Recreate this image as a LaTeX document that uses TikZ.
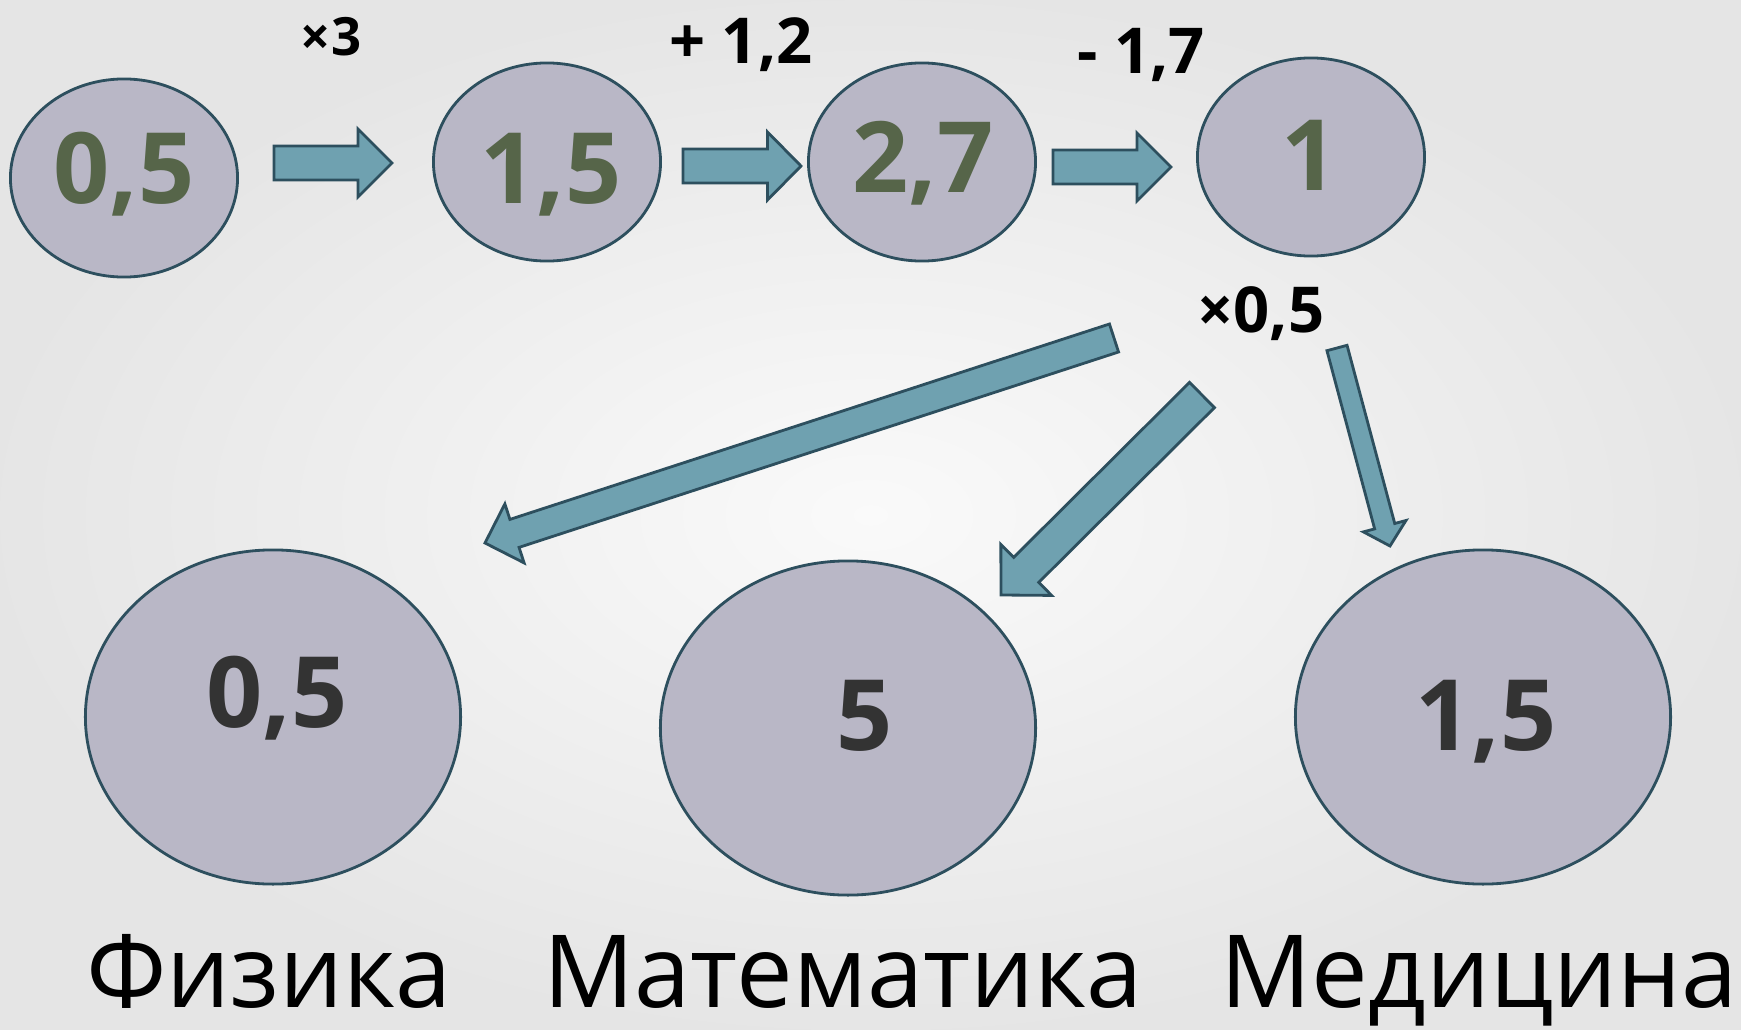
\documentclass[tikz,border=0pt]{standalone}
\usepackage{fontspec}
\setmainfont{Open Sans}
\usetikzlibrary{calc,shapes.geometric}

\definecolor{bubblefill}{HTML}{B9B7C6}
\definecolor{rim}{HTML}{2D4F5E}
\definecolor{arrowfill}{HTML}{6FA1B0}
\definecolor{olive}{HTML}{566549}
\definecolor{darknum}{HTML}{333333}

% tail, tip, half shaft width, half head width, head length
\newcommand\fatarrow[5]{%
  \coordinate (fa-base) at ($(#2)!#5!(#1)$);
  \draw[blockarrow] ($(#1)!#3!90:(#2)$) -- ($(fa-base)!#3!90:(#2)$)
    -- ($(fa-base)!#4!90:(#2)$) -- (#2) -- ($(fa-base)!#4!-90:(#2)$)
    -- ($(fa-base)!#3!-90:(#2)$) -- ($(#1)!#3!-90:(#2)$) -- cycle;}

\begin{document}
\begin{tikzpicture}[x=0.01cm,y=-0.01cm,
  bubble/.style={ellipse,draw=rim,fill=bubblefill,line width=0.8pt,inner sep=0pt},
  smallbubble/.style={bubble,minimum width=2.27cm,minimum height=1.98cm},
  bigbubble/.style={bubble,minimum width=3.75cm,minimum height=3.34cm},
  blockarrow/.style={draw=rim,fill=arrowfill,line width=0.8pt,line join=miter},
  topnum/.style={anchor=base,text=olive,font=\bfseries\fontsize{28}{30}\selectfont},
  botnum/.style={anchor=base,text=darknum,font=\bfseries\fontsize{28}{30}\selectfont},
  oplabel/.style={anchor=base,font=\bfseries\fontsize{18}{20}\selectfont},
  subject/.style={anchor=base,font=\fontsize{28.7}{32}\selectfont}]
\useasboundingbox (0,0) rectangle (1741,1030);
\shade[inner color=white!98!black,outer color=white!90!black] (0,0) rectangle (1741,1030);

% chain of values
\node[smallbubble] (e05) at (124,178) {}; \node[topnum] (t05) at (124,203) {0,5};
\node[smallbubble] (e15) at (547,162) {}; \node[topnum] (t15) at (551,203) {1,5};
\node[smallbubble] (e27) at (922,162) {}; \node[topnum] (t27) at (923,192) {2,7};
\node[smallbubble] (e1) at (1311,157) {}; \node[topnum] (t1) at (1310,190) {1};

\node[oplabel,font=\bfseries\fontsize{15}{17}\selectfont] (optimes) at (331,55) {×3};
\node[oplabel] (opplus) at (741,63) {+ 1,2};
\node[oplabel] (opminus) at (1141,73) {- 1,7};
\node[oplabel] (ophalf) at (1261,332) {×0,5};

\coordinate (a1s) at (274,163); \coordinate (a1e) at (392,163);
\coordinate (a2s) at (683,166); \coordinate (a2e) at (801,166);
\coordinate (a3s) at (1053,167); \coordinate (a3e) at (1171,167);
\fatarrow{a1s}{a1e}{0.17cm}{0.34cm}{0.34cm}
\fatarrow{a2s}{a2e}{0.17cm}{0.34cm}{0.335cm}
\fatarrow{a3s}{a3e}{0.17cm}{0.34cm}{0.34cm}

% results
\node[bigbubble] (phys) at (273,717) {}; \node[botnum] (tphys) at (277,727) {0,5};
\node[bigbubble] (math) at (848,728) {}; \node[botnum] (tmath) at (865,750) {5};
\node[bigbubble] (med) at (1483,717) {}; \node[botnum] (tmed) at (1486,750) {1,5};

\coordinate (b1s) at (1114,338); \coordinate (b1e) at (485,543);
\coordinate (b2s) at (1202,395); \coordinate (b2e) at (1001,595);
\coordinate (b3s) at (1337,348); \coordinate (b3e) at (1390,546);
\fatarrow{b1s}{b1e}{0.147cm}{0.31cm}{0.31cm}
\fatarrow{b2s}{b2e}{0.177cm}{0.36cm}{0.356cm}
\fatarrow{b3s}{b3e}{0.104cm}{0.22cm}{0.205cm}

\node[subject] (lphys) at (269,1007) {Физика};
\node[subject] (lmath) at (843,1007) {Математика};
\node[subject] (lmed) at (1479,1007) {Медицина};
\end{tikzpicture}
\end{document}
